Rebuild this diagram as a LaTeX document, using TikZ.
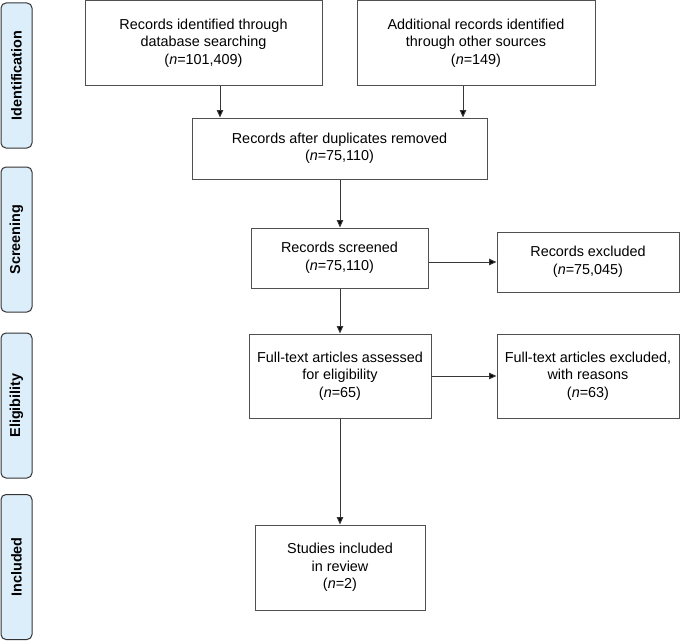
\documentclass[tikz,border=0pt]{standalone}
\usepackage{fontspec}
\setmainfont{Liberation Sans}
\usetikzlibrary{arrows.meta}
\definecolor{sidefill}{RGB}{221,238,251}
\definecolor{boxline}{RGB}{80,80,80}
\definecolor{arrline}{RGB}{55,55,55}
\begin{document}
\begin{tikzpicture}[x=1pt,y=-1pt,
  box/.style={draw=boxline,line width=1pt,align=center,inner sep=0pt,
    font=\fontsize{14.4}{17.5}\selectfont},
  side/.style={draw=black!80,line width=1pt,fill=sidefill,rounded corners=5pt,
    rotate=90,inner sep=0pt,minimum width=145pt,minimum height=31pt,
    font=\fontsize{14.4}{17.5}\selectfont\bfseries},
  arr/.style={draw=arrline,line width=1pt,-{Triangle[length=7.5pt,width=6.5pt,fill=black]}}]
\useasboundingbox (0,0) rectangle (680,642);
% side labels
\node[side] (s1) at (16.5,75.5) {Identification};
\node[side] (s2) at (16.5,239.5) {Screening};
\node[side] (s3) at (16.5,405.5) {Eligibility};
\node[side] (s4) at (16.5,567) {Included};
% boxes
\node[box,minimum width=237pt,minimum height=84pt] (b1) at (203.5,43)
  {Records identified through\\database searching\\(\textit{n}=101,409)};
\node[box,minimum width=238pt,minimum height=84pt] (b2) at (476,43)
  {Additional records identified\\through other sources\\(\textit{n}=149)};
\node[box,minimum width=295pt,minimum height=61pt] (b3) at (339.5,148.5)
  {Records after duplicates removed\\(\textit{n}=75,110)};
\node[box,minimum width=177pt,minimum height=60pt] (b4) at (339.5,258)
  {Records screened\\(\textit{n}=75,110)};
\node[box,minimum width=182pt,minimum height=60pt] (b5) at (588,262)
  {Records excluded\\(\textit{n}=75,045)};
\node[box,minimum width=182pt,minimum height=84pt] (b6) at (340,376)
  {Full-text articles assessed\\for eligibility\\(\textit{n}=65)};
\node[box,minimum width=182pt,minimum height=84pt] (b7) at (588,376)
  {Full-text articles excluded,\\with reasons\\(\textit{n}=63)};
\node[box,minimum width=170pt,minimum height=85pt] (b8) at (340,567.5)
  {Studies included\\in review\\(\textit{n}=2)};
% connectors
\coordinate (x1) at (220,0);
\coordinate (x2) at (463,0);
\coordinate (xc) at (340,0);
\draw[arr] (b1.south -| x1) -- (b3.north -| x1);
\draw[arr] (b2.south -| x2) -- (b3.north -| x2);
\draw[arr] (b3.south -| xc) -- (b4.north -| xc);
\draw[arr] (b4.east |- b5.west) -- (b5.west);
\draw[arr] (b4.south -| xc) -- (b6.north -| xc);
\draw[arr] (b6.east) -- (b7.west);
\draw[arr] (b6.south -| xc) -- (b8.north -| xc);
\end{tikzpicture}
\end{document}
